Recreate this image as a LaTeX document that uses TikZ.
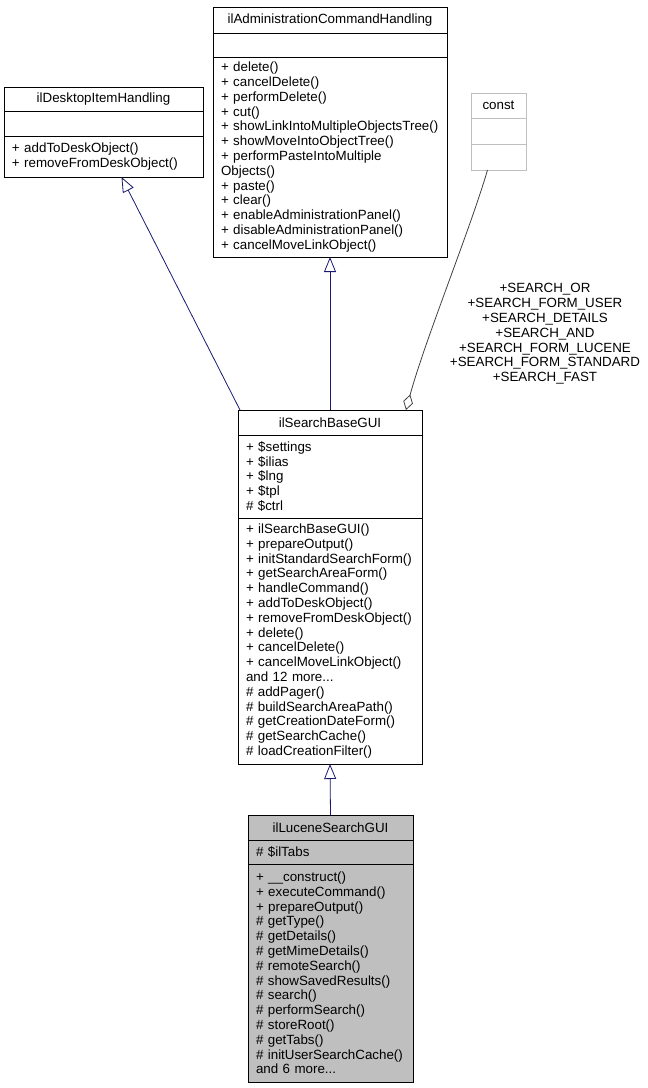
\documentclass[tikz,border=0pt]{standalone}
\usepackage{fontspec}
\setmainfont{Liberation Sans}
\usetikzlibrary{arrows.meta}
\definecolor{boxgray}{HTML}{BFBFBF}
\definecolor{edgeblue}{RGB}{25,25,112}
\definecolor{edgegray}{HTML}{404040}
\begin{document}
\begin{tikzpicture}[x=1pt, y=-1pt,
  font=\fontsize{13.35}{14.8}\selectfont,
  part/.style={draw, line width=0.8pt, anchor=north west, inner xsep=8pt, inner ysep=0pt, outer sep=0pt},
  title/.style={part, align=center},
  rows/.style={part, align=left},
  inherit/.style={draw=edgeblue, line width=0.8pt, -{Triangle[open, length=15pt, width=12pt]}},
  uses/.style={draw=edgegray, line width=0.8pt, -{Diamond[open, length=16pt, width=10pt]}}
]
  \useasboundingbox (0,0) rectangle (648,1088);

  % ilDesktopItemHandling
  \node[title, minimum width=199pt, minimum height=24pt] (dkTitle) at (4,87) {ilDesktopItemHandling};
  \node[rows, minimum width=199pt, minimum height=25pt] (dkAttr) at (4,111) {};
  \node[rows, text width=183pt, minimum height=41pt] (dkMeth) at (4,136) {+ addToDeskObject()\\+ removeFromDeskObject()};

  % ilAdministrationCommandHandling
  \node[title, minimum width=234pt, minimum height=26pt] (adTitle) at (213,7) {ilAdministrationCommandHandling};
  \node[rows, minimum width=234pt, minimum height=24pt] (adAttr) at (213,33) {};
  \node[rows, text width=218pt, minimum height=200pt] (adMeth) at (213,57) {+ delete()\\+ cancelDelete()\\+ performDelete()\\+ cut()\\+ showLinkIntoMultipleObjectsTree()\\+ showMoveIntoObjectTree()\\+ performPasteIntoMultiple\\Objects()\\+ paste()\\+ clear()\\+ enableAdministrationPanel()\\+ disableAdministrationPanel()\\+ cancelMoveLinkObject()};

  % const
  \node[title, draw=boxgray, minimum width=55pt, minimum height=25pt] (cnTitle) at (471,93) {const};
  \node[rows, draw=boxgray, minimum width=55pt, minimum height=26pt] (cnAttr) at (471,118) {};
  \node[rows, draw=boxgray, minimum width=55pt, minimum height=26pt] (cnMeth) at (471,144) {};

  % ilSearchBaseGUI
  \node[title, minimum width=184pt, minimum height=25pt] (sbTitle) at (238,410) {ilSearchBaseGUI};
  \node[rows, text width=168pt, minimum height=83pt] (sbAttr) at (238,435) {+ \$settings\\+ \$ilias\\+ \$lng\\+ \$tpl\\\# \$ctrl};
  \node[rows, text width=168pt, minimum height=246pt] (sbMeth) at (238,518) {+ ilSearchBaseGUI()\\+ prepareOutput()\\+ initStandardSearchForm()\\+ getSearchAreaForm()\\+ handleCommand()\\+ addToDeskObject()\\+ removeFromDeskObject()\\+ delete()\\+ cancelDelete()\\+ cancelMoveLinkObject()\\and 12 more...\\\# addPager()\\\# buildSearchAreaPath()\\\# getCreationDateForm()\\\# getSearchCache()\\\# loadCreationFilter()};

  % ilLuceneSearchGUI
  \node[title, fill=boxgray, minimum width=165pt, minimum height=25pt] (luTitle) at (248,815) {ilLuceneSearchGUI};
  \node[rows, fill=boxgray, text width=149pt, minimum height=24pt] (luAttr) at (248,840) {\# \$ilTabs};
  \node[rows, fill=boxgray, text width=149pt, minimum height=218pt] (luMeth) at (248,864) {+ \_\_construct()\\+ executeCommand()\\+ prepareOutput()\\\# getType()\\\# getDetails()\\\# getMimeDetails()\\\# remoteSearch()\\\# showSavedResults()\\\# search()\\\# performSearch()\\\# storeRoot()\\\# getTabs()\\\# initUserSearchCache()\\and 6 more...};

  % connectors
  \draw[inherit] ([xshift=2pt]sbTitle.north west) -- ([xshift=18pt]dkMeth.south);
  \draw[inherit] (sbTitle.north) -- (adMeth.south);
  \draw[inherit] (luTitle.north) -- (sbMeth.south);
  \draw[uses] ([xshift=-11pt]cnMeth.south) .. controls (470,230) and (425,340) .. ([xshift=76pt]sbTitle.north);
  \node[align=center] (cnLabel) at (545,334) {+SEARCH\_OR\\+SEARCH\_FORM\_USER\\+SEARCH\_DETAILS\\+SEARCH\_AND\\+SEARCH\_FORM\_LUCENE\\+SEARCH\_FORM\_STANDARD\\+SEARCH\_FAST};
\end{tikzpicture}
\end{document}
